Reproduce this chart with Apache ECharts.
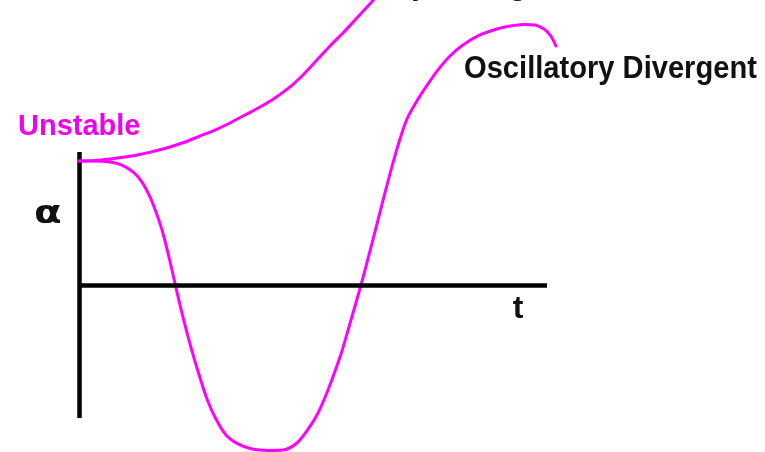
<!DOCTYPE html>
<html>
<head>
<meta charset="utf-8">
<style>
  html, body { margin: 0; padding: 0; background: #ffffff; }
  #chart { width: 765px; height: 452px; }
</style>
<script src="https://cdn.jsdelivr.net/npm/echarts@6/dist/echarts.min.js"></script>
</head>
<body>
<div id="chart"></div>
<script>
// Time samples and angle-of-attack response (normalised units)
const monoT = [0, 0.342, 0.662, 0.983, 1.303, 1.624, 1.944, 2.265, 2.585, 2.906, 3.226, 3.547,
  3.868, 4.188, 4.509, 4.786, 5.064, 5.363, 5.641, 5.919, 6.175, 6.389, 6.645];
const monoAlpha = [0.932, 0.936, 0.947, 0.962, 0.981, 1.008, 1.038, 1.075, 1.120, 1.165, 1.218, 1.278,
  1.338, 1.406, 1.489, 1.579, 1.684, 1.797, 1.895, 2.000, 2.098, 2.180, 2.278];

const oscT = [0, 0.342, 0.662, 0.919, 1.154, 1.346, 1.517, 1.645, 1.774, 1.880, 1.987, 2.094, 2.201,
  2.350, 2.521, 2.735, 2.927, 3.141, 3.397, 3.697, 4.038, 4.359, 4.658, 4.915, 5.107, 5.278, 5.449,
  5.620, 5.812, 6.026, 6.197, 6.368, 6.538, 6.709, 6.859, 7.009, 7.201, 7.415, 7.671, 7.927, 8.205,
  8.568, 8.932, 9.209, 9.487, 9.744, 9.936, 10.085, 10.192];
const oscAlpha = [0.932, 0.932, 0.925, 0.902, 0.850, 0.774, 0.662, 0.549, 0.414, 0.271, 0.113, -0.053,
  -0.211, -0.414, -0.624, -0.857, -1.008, -1.128, -1.195, -1.233, -1.244, -1.241, -1.188, -1.075,
  -0.962, -0.827, -0.669, -0.496, -0.263, 0, 0.226, 0.459, 0.692, 0.918, 1.098, 1.248, 1.372, 1.489,
  1.617, 1.722, 1.805, 1.880, 1.925, 1.947, 1.959, 1.955, 1.925, 1.872, 1.797];

// Extent of the drawn time axis
const tAxisEnd = 10;

const curveLabels = ['Monotonically Divergent', 'Oscillatory Divergent'];
const stateLabel = 'Unstable';
const axisNames = { x: 't', y: 'α' };

const MAGENTA = '#ff00ff';
const INK = '#111111';

const zip = (xs, ys) => xs.map((x, i) => [x, ys[i]]);

const chart = echarts.init(document.getElementById('chart'), null, { renderer: 'canvas' });

const axisStroke = { color: '#000', width: 4.5, cap: 'butt' };

const curveStyle = {
  type: 'line', smooth: 0.3, showSymbol: false, clip: false,
  lineStyle: { color: MAGENTA, width: 3, cap: 'round', join: 'round' }
};

chart.setOption({
  animation: false,
  backgroundColor: '#ffffff',
  grid: { left: 79, right: 199.3, top: 152, bottom: 34, containLabel: false },
  xAxis: {
    type: 'value', min: 0, max: 10.4,
    axisLine: { show: false },
    axisTick: { show: false }, axisLabel: { show: false }, splitLine: { show: false }
  },
  yAxis: {
    type: 'value', min: -1, max: 1,
    axisLine: { show: true, onZero: false, lineStyle: axisStroke },
    axisTick: { show: false }, axisLabel: { show: false }, splitLine: { show: false }
  },
  series: [
    Object.assign({ name: curveLabels[0], data: zip(monoT, monoAlpha) }, curveStyle),
    Object.assign({ name: curveLabels[1], data: zip(oscT, oscAlpha) }, curveStyle, {
      markLine: {
        silent: true, symbol: ['none', 'none'], animation: false,
        label: { show: false },
        lineStyle: Object.assign({ type: 'solid' }, axisStroke),
        data: [[{ coord: [0, 0] }, { coord: [tAxisEnd, 0] }]]
      }
    })
  ],
  graphic: [
    {
      type: 'text', x: 232, y: -15, scaleX: 0.91,
      style: { text: curveLabels[0], font: 'bold 32px "Liberation Sans", Arial, sans-serif',
        fill: INK, align: 'left', verticalAlign: 'middle' }
    },
    {
      type: 'text', x: 464, y: 69.5, scaleX: 0.91,
      style: { text: curveLabels[1], font: 'bold 32px "Liberation Sans", Arial, sans-serif',
        fill: INK, align: 'left', verticalAlign: 'middle' }
    },
    {
      type: 'text', x: 18, y: 126.5,
      style: { text: stateLabel, font: 'bold 29px "Liberation Sans", Arial, sans-serif',
        fill: '#f000f0', align: 'left', verticalAlign: 'middle' }
    },
    {
      type: 'text', x: 34, y: 215, scaleX: 1.3,
      style: { text: axisNames.y, font: 'bold 31px "DejaVu Sans", sans-serif',
        fill: INK, align: 'left', verticalAlign: 'middle' }
    },
    {
      type: 'text', x: 518, y: 309,
      style: { text: axisNames.x, font: 'bold 32px "Liberation Sans", Arial, sans-serif',
        fill: INK, align: 'center', verticalAlign: 'middle' }
    }
  ]
});
</script>
</body>
</html>
